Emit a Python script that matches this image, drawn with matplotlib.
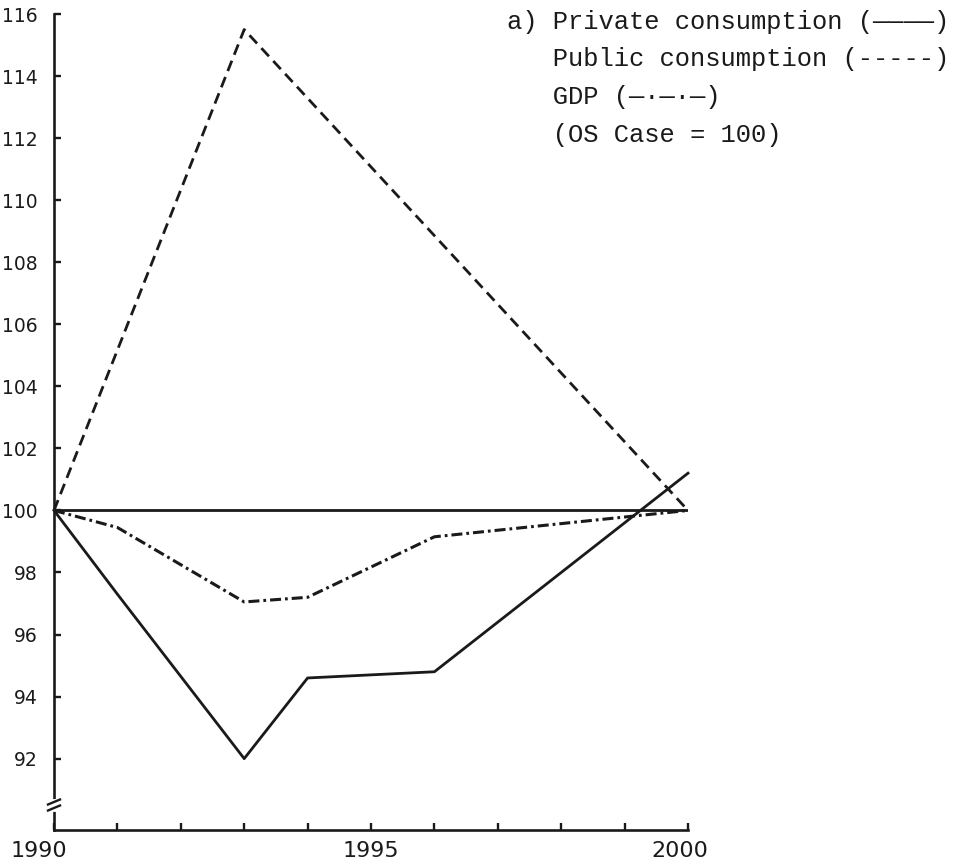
import matplotlib
matplotlib.use('Agg')
import matplotlib.pyplot as plt
from matplotlib.transforms import ScaledTranslation

# values (OS case = 100)
years_private = [1990, 1991, 1993, 1994, 1996, 2000]
private = [100, 97.3, 92.0, 94.6, 94.8, 101.2]

years_public = [1990, 1993, 2000]
public = [100, 115.5, 100]

years_gdp = [1990, 1991, 1993, 1994, 1996, 2000]
gdp = [100, 99.45, 97.05, 97.2, 99.15, 100]

base_case = 100

y_ticks = [92, 94, 96, 98, 100, 102, 104, 106, 108, 110, 112, 114, 116]
x_ticks = [1990, 1991, 1992, 1993, 1994, 1995, 1996, 1997, 1998, 1999, 2000]
x_labels = ['1990', '', '', '', '', '1995', '', '', '', '', '2000']

legend_lines = ['a) Private consumption (————)',
                '   Public consumption (-----)',
                '   GDP (—·—·—)',
                '   (OS Case = 100)']

ink = '#1a1a1a'
W, H = 963, 865

fig = plt.figure(figsize=(W / 100, H / 100), dpi=100)
ax = fig.add_axes([54 / W, 35 / H, 634 / W, 816 / H])

ax.plot(years_private, private, color=ink, lw=2.0, clip_on=False)
ax.plot(years_public, public, color=ink, lw=2.0, linestyle=(0, (4, 2.3)), clip_on=False)
ax.plot(years_gdp, gdp, color=ink, lw=2.2, linestyle=(0, (3.6, 1.3, 0.9, 1.3)), clip_on=False)
ax.axhline(base_case, color=ink, lw=2.0)

ax.set_xlim(1990, 2000)
ax.set_ylim(89.7, 116)

for s in ['top', 'right']:
    ax.spines[s].set_visible(False)
for s in ['left', 'bottom']:
    ax.spines[s].set_linewidth(1.9)
    ax.spines[s].set_color(ink)

ax.set_yticks(y_ticks)
ax.set_yticklabels([str(v) for v in y_ticks])
ax.set_xticks(x_ticks)
ax.set_xticklabels(x_labels)
ax.set_xticks([2000], minor=True)

ax.tick_params(axis='y', direction='in', length=5, width=1.7, color=ink,
               labelsize=13.5, labelcolor=ink, pad=11.5)
ax.tick_params(axis='x', which='major', direction='in', length=5, width=1.7,
               color=ink, labelsize=16, labelcolor=ink, pad=8)
ax.tick_params(axis='x', which='minor', direction='in', length=11, width=1.7, color=ink)

# first and last year labels sit a little left of their ticks in the scan
xl = ax.get_xticklabels()
xl[0].set_transform(xl[0].get_transform() + ScaledTranslation(-0.15, 0, fig.dpi_scale_trans))
xl[-1].set_transform(xl[-1].get_transform() + ScaledTranslation(-0.08, 0, fig.dpi_scale_trans))

# axis break near the bottom of the y axis
b = 25 / 816
ax.plot([0, 0], [b - 4 / 816, b + 4 / 816], color='white', lw=3.5,
        transform=ax.transAxes, clip_on=False, zorder=5)
for off in (-3, 3):
    ax.plot([-6 / 634, 6 / 634], [b + (off - 2.5) / 816, b + (off + 2.5) / 816],
            color=ink, lw=1.7, transform=ax.transAxes, clip_on=False, zorder=6)

# key written as text, typewriter style
for line, ypx in zip(legend_lines, [22, 59, 97, 135]):
    fig.text(507 / W, 1 - ypx / H, line, family='Liberation Mono', size=18.4,
             color=ink, ha='left', va='center')

fig.savefig('out.png', dpi=100)
